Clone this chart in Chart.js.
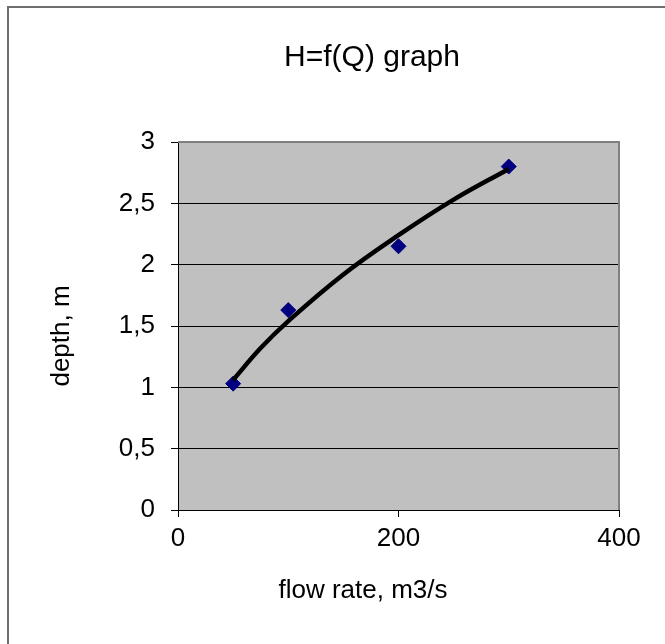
<!DOCTYPE html>
<html>
<head>
<meta charset="utf-8">
<script src="https://cdn.jsdelivr.net/npm/chart.js@4/dist/chart.umd.min.js"></script>
<style>
  body { margin: 0; background: #fff; }
  canvas { display: block; }
</style>
</head>
<body>
<canvas id="hqChart" width="665" height="644"></canvas>
<script>
// measured points: flow rate (m3/s) -> depth (m)
const flowRate = [50, 100, 200, 300];
const depth = [1.03, 1.63, 2.15, 2.8];

// trend curve
const trendFlow = [50, 75, 100, 150, 200, 250, 300];
const trendDepth = [1.06, 1.32, 1.54, 1.92, 2.24, 2.53, 2.78];

const xTicks = [0, 200, 400];
const yTicks = [0, 0.5, 1, 1.5, 2, 2.5, 3];

const chartTitle = 'H=f(Q) graph';
const xTitle = 'flow rate, m3/s';
const yTitle = 'depth, m';

const font = '"Liberation Sans", Arial, sans-serif';

// grey plot area, frame and titles like the old excel chart
const excelLook = {
    id: 'excelLook',
    beforeDraw(chart) {
        const { ctx, chartArea: a } = chart;
        ctx.save();
        ctx.fillStyle = '#6e6e6e';
        ctx.fillRect(7, 6, 658, 2);
        ctx.fillRect(7, 6, 2, 638);
        ctx.fillStyle = '#c0c0c0';
        ctx.fillRect(a.left, a.top, a.right - a.left, a.bottom - a.top);
        ctx.restore();
    },
    beforeDatasetsDraw(chart) {
        const { ctx, chartArea: a } = chart;
        ctx.save();
        ctx.strokeStyle = '#808080';
        ctx.lineWidth = 2;
        ctx.beginPath();
        ctx.moveTo(a.left, a.top);
        ctx.lineTo(a.right, a.top);
        ctx.lineTo(a.right, a.bottom);
        ctx.stroke();
        ctx.restore();
    },
    afterDraw(chart) {
        const ctx = chart.ctx;
        ctx.save();
        ctx.fillStyle = '#000';
        ctx.textAlign = 'center';
        ctx.textBaseline = 'middle';
        ctx.font = '30px ' + font;
        ctx.fillText(chartTitle, 372, 58);
        ctx.font = '26px ' + font;
        ctx.fillText(xTitle, 363, 591);
        ctx.translate(62, 336);
        ctx.rotate(-Math.PI / 2);
        ctx.fillText(yTitle, 0, 0);
        ctx.restore();
    }
};

new Chart(document.getElementById('hqChart'), {
    type: 'scatter',
    data: {
        datasets: [{
            label: 'trend',
            data: trendFlow.map((q, i) => ({ x: q, y: trendDepth[i] })),
            showLine: true,
            borderColor: '#000',
            borderWidth: 4.5,
            pointRadius: 0,
            tension: 0.4,
            order: 0
        }, {
            label: 'H',
            data: flowRate.map((q, i) => ({ x: q, y: depth[i] })),
            pointStyle: 'rectRot',
            pointRadius: 7.5,
            backgroundColor: '#000080',
            borderColor: '#000080',
            borderWidth: 1,
            order: 1
        }]
    },
    options: {
        responsive: false,
        animation: false,
        devicePixelRatio: 1,
        layout: { padding: { top: 142, right: 46, left: 0, bottom: 0 } },
        plugins: {
            legend: { display: false },
            tooltip: { enabled: false }
        },
        scales: {
            x: {
                min: 0,
                max: 400,
                afterFit: (scale) => { scale.height = 134; },
                afterBuildTicks: (scale) => { scale.ticks = xTicks.map(v => ({ value: v })); },
                grid: { drawOnChartArea: false, color: '#000', tickLength: 7 },
                border: { color: '#000' },
                ticks: { color: '#000', padding: 6, font: { family: font, size: 26 } }
            },
            y: {
                min: 0,
                max: 3,
                afterFit: (scale) => { scale.width = 178; },
                afterBuildTicks: (scale) => { scale.ticks = yTicks.map(v => ({ value: v })); },
                grid: { color: '#000', tickLength: 7 },
                border: { color: '#000' },
                ticks: {
                    color: '#000',
                    padding: 16,
                    font: { family: font, size: 26 },
                    callback: (v) => String(v).replace('.', ',')
                }
            }
        }
    },
    plugins: [excelLook]
});
</script>
</body>
</html>
